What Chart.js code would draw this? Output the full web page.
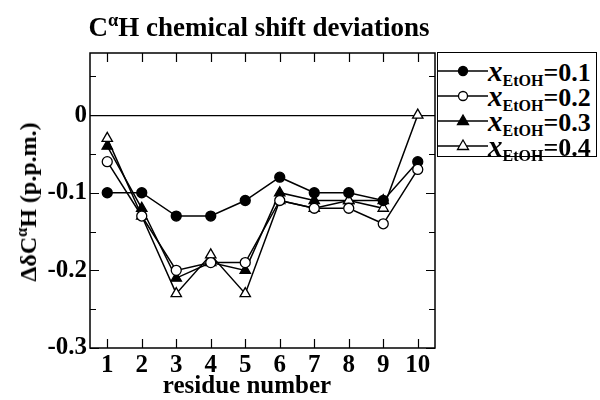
<!DOCTYPE html>
<html><head><meta charset="utf-8">
<script src="https://cdn.jsdelivr.net/npm/chart.js@4/dist/chart.umd.min.js"></script>
<style>
html,body{margin:0;padding:0;background:#fff;}
#wrap{position:relative;width:600px;height:400px;font-family:"Liberation Serif","Times New Roman",serif;font-weight:bold;color:#000;overflow:hidden;}
#c{position:absolute;left:0;top:0;}
.t{position:absolute;white-space:nowrap;line-height:1;}
.sup{position:relative;font-size:0.68em;top:-0.55em;}
#title{left:259px;top:14px;font-size:27px;transform:translateX(-50%);}
#xlab{left:247px;top:372px;font-size:25px;transform:translateX(-50%);}
#ylab{left:28px;top:202px;font-size:24px;transform:translate(-50%,-50%) rotate(-90deg);}
#legend{position:absolute;left:437px;top:52px;width:160px;height:105px;border:1.5px solid #000;box-sizing:border-box;background:#fff;}
.row{position:absolute;left:0;height:26px;width:160px;}
.row svg{position:absolute;left:0;top:0;}
.lt{position:absolute;left:50px;top:0;line-height:1;font-size:26px;white-space:nowrap;}
.lt i{font-size:29px;}
.lt sub{font-size:16px;position:relative;top:0.3em;vertical-align:baseline;}
</style></head>
<body>
<div id="wrap">
<canvas id="c" width="600" height="400"></canvas>
<div id="title" class="t">C<span class="sup">α</span>H chemical shift deviations</div>
<div id="xlab" class="t">residue number</div>
<div id="ylab" class="t">ΔδC<span class="sup">α</span>H (p.p.m.)</div>
<div id="legend"></div>
</div>
<script>
const categories = ['1','2','3','4','5','6','7','8','9','10'];
const seriesNames = ['0.1','0.2','0.3','0.4'];
const etoh01 = [-0.10,-0.10,-0.13,-0.13,-0.11,-0.08,-0.10,-0.10,-0.11,-0.06];
const etoh02 = [-0.06,-0.13,-0.20,-0.19,-0.19,-0.11,-0.12,-0.12,-0.14,-0.07];
const etoh03 = [-0.04,-0.12,-0.21,-0.19,-0.20,-0.10,-0.11,-0.11,-0.11,null];
const etoh04 = [-0.03,-0.13,-0.23,-0.18,-0.23,-0.11,-0.12,-0.11,-0.12,0.00];
const yTickValues = [0,-0.1,-0.2,-0.3];
const yMinorStep = 0.05;

const styles = [
  {pointStyle:'circle', fill:'#000', r:5, order:2},
  {pointStyle:'circle', fill:'#fff', r:5, order:1},
  {pointStyle:'triangle', fill:'#000', r:6, order:4},
  {pointStyle:'triangle', fill:'#fff', r:6, order:3}
];
const allSeries = [etoh01, etoh02, etoh03, etoh04];

const datasets = allSeries.map((d,i)=>({
  label:'x_EtOH='+seriesNames[i],
  data:d,
  borderColor:'#000',
  borderWidth:1.5,
  backgroundColor:styles[i].fill,
  pointBackgroundColor:styles[i].fill,
  pointBorderColor:'#000',
  pointBorderWidth:1.3,
  pointStyle:styles[i].pointStyle,
  pointRadius:styles[i].r,
  tension:0,
  fill:false,
  spanGaps:false,
  order:styles[i].order
}));

const frameTicks = {
  id:'frameTicks',
  afterDatasetsDraw(chart){
    const {ctx, chartArea:a, scales:{x,y}} = chart;
    ctx.save();
    ctx.strokeStyle = '#000';
    ctx.lineWidth = 1.5;
    ctx.strokeRect(a.left, a.top, a.right-a.left, a.bottom-a.top);
    ctx.lineWidth = 1.2;
    ctx.beginPath();
    categories.forEach((c,i)=>{
      const px = Math.round(x.getPixelForValue(i))+0.5;
      ctx.moveTo(px,a.bottom); ctx.lineTo(px,a.bottom-9);
      ctx.moveTo(px,a.top); ctx.lineTo(px,a.top+9);
    });
    for (let v=y.min; v<=y.max+1e-9; v+=yMinorStep){
      const major = Math.abs(v*10-Math.round(v*10))<1e-6;
      const len = major?9:6;
      const py = Math.round(y.getPixelForValue(v))+0.5;
      ctx.moveTo(a.left,py); ctx.lineTo(a.left+len,py);
      ctx.moveTo(a.right,py); ctx.lineTo(a.right-len,py);
    }
    ctx.stroke();
    ctx.restore();
  }
};

new Chart(document.getElementById('c'),{
  type:'line',
  data:{labels:categories, datasets},
  options:{
    responsive:false,
    animation:false,
    layout:{padding:{left:0,right:165,top:53,bottom:0}},
    plugins:{legend:{display:false},tooltip:{enabled:false},title:{display:false}},
    scales:{
      x:{
        offset:true,
        grid:{display:false,drawTicks:false},
        border:{display:false},
        ticks:{color:'#000',padding:3,font:{family:'Liberation Serif',size:25,weight:'bold'},maxRotation:0,autoSkip:false},
        afterFit(s){s.height=52;}
      },
      y:{
        min:-0.3,max:0.08,
        grid:{drawTicks:false,color:(c)=>(c.tick && Math.abs(c.tick.value)<1e-9)?'#000':'rgba(0,0,0,0)',lineWidth:1.2},
        border:{display:false},
        ticks:{stepSize:yMinorStep,color:'#000',padding:3,font:{family:'Liberation Serif',size:25,weight:'bold'},
          callback:(v)=>{const m=yTickValues.find(t=>Math.abs(t-v)<1e-9);return m===undefined?'':(m===0?'0':m.toFixed(1));}},
        afterFit(s){s.width=90;}
      }
    }
  },
  plugins:[frameTicks]
});

// HTML legend (for subscript text)
const leg = document.getElementById('legend');
const rowTops = [4,29,54,79];
seriesNames.forEach((n,i)=>{
  const row = document.createElement('div');
  row.className='row';
  row.style.top = rowTops[i]+'px';
  const st = styles[i];
  let marker;
  if (st.pointStyle==='circle') marker = `<circle cx="25" cy="14" r="4.5" fill="${st.fill}" stroke="#000" stroke-width="1.3"/>`;
  else marker = `<polygon points="25,8 30.5,17.5 19.5,17.5" fill="${st.fill}" stroke="#000" stroke-width="1.3"/>`;
  row.innerHTML = `<svg width="50" height="26"><line x1="0" y1="14" x2="50" y2="14" stroke="#000" stroke-width="1.5"/>${marker}</svg>`+
    `<span class="lt"><i>x</i><sub>EtOH</sub>=${n}</span>`;
  leg.appendChild(row);
});
</script>
</body></html>
